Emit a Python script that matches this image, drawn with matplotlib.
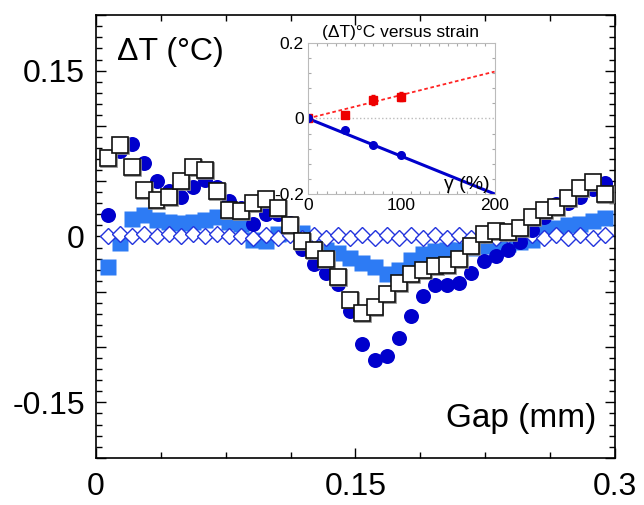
import numpy as np
import matplotlib
matplotlib.use('Agg')
import matplotlib.pyplot as plt
import matplotlib.patheffects as pe
from matplotlib.ticker import MultipleLocator, FixedLocator, FuncFormatter

plt.rcParams['font.family'] = ['Liberation Sans', 'DejaVu Sans']

# gap positions (mm)
gap = [0.007 * k for k in range(1, 43)]

circles = [0.019, 0.077, 0.084, 0.066, 0.050, 0.041, 0.036, 0.045, 0.051, 0.045,
           0.032, 0.026, 0.011, 0.020, 0.020, 0.012, -0.011, -0.025, -0.033, -0.043,
           -0.067, -0.097, -0.112, -0.108, -0.092, -0.072, -0.054, -0.044, -0.044, -0.042,
           -0.033, -0.022, -0.018, -0.012, -0.005, 0.006, 0.018, 0.029, 0.030, 0.036,
           0.043, 0.048]
open_sq = [0.071, 0.083, 0.063, 0.042, 0.033, 0.036, 0.050, 0.063, 0.060, 0.041,
           0.024, 0.023, 0.030, 0.034, 0.026, 0.010, -0.004, -0.012, -0.020, -0.037,
           -0.057, -0.069, -0.064, -0.052, -0.042, -0.034, -0.030, -0.027, -0.026, -0.020,
           -0.009, 0.002, 0.005, 0.004, 0.008, 0.018, 0.024, 0.027, 0.035, 0.044,
           0.049, 0.038]
filled_sq = [-0.028, -0.006, 0.016, 0.019, 0.015, 0.0135, 0.012, 0.0135, 0.015, 0.018,
             0.0135, 0.011, -0.003, -0.004, 0.002, 0.003, 0.003, -0.010, -0.012, -0.015,
             -0.019, -0.024, -0.028, -0.034, -0.030, -0.021, -0.016, -0.013, -0.012, -0.012,
             -0.010, -0.009, -0.008, -0.007, -0.005, -0.003, 0.006, 0.008, 0.010, 0.011,
             0.014, 0.017]
diamonds = [0.0, 0.002, 0.0, 0.002, 0.0, 0.002, 0.0, 0.002, 0.0, 0.002,
            0.0, 0.0, -0.001, 0.001, -0.001, 0.001, -0.001, 0.001, -0.001, 0.001,
            -0.001, 0.001, -0.001, 0.001, -0.001, 0.001, -0.001, 0.001, -0.001, 0.001,
            -0.001, 0.001, -0.001, 0.001, -0.001, 0.001, -0.001, 0.001, -0.001, 0.001,
            -0.001, 0.001]

# inset: dT versus strain
strain = [0, 40, 70, 100]
dt_red = [0.0, 0.010, 0.048, 0.058]
err_red = [0.004, 0.005, 0.013, 0.013]
dt_blue = [0.0, -0.031, -0.070, -0.096]
err_blue = [0.005, 0.006, 0.006, 0.006]
fit_x = [0, 200]
fit_red = [0.0, 0.124]
fit_blue = [0.0, -0.2]

fig = plt.figure(figsize=(6.44, 5.05), dpi=100)
ax = fig.add_axes([0.149, 0.0937, 0.806, 0.876])

ax.plot(gap, filled_sq, 's', ms=11.5, color='#2d7bf4', mec='none', zorder=2)
ax.plot(gap, diamonds, 'D', ms=8.6, mfc='white', mec='#2233dd', mew=1.0, zorder=3)
ax.plot(gap, circles, 'o', ms=10.8, color='#0000cc', mec='none', zorder=4)
ax.plot(gap, open_sq, 's', ms=11.5, mfc='white', mec='#111111', mew=1.2, zorder=5,
        path_effects=[pe.SimpleLineShadow(offset=(0.7, -0.7), shadow_color='#888888', alpha=1),
                      pe.Normal()])

ax.set_xlim(0, 0.3)
ax.set_ylim(-0.2, 0.2)
ax.xaxis.set_major_locator(FixedLocator([0, 0.15, 0.3]))
ax.xaxis.set_minor_locator(MultipleLocator(0.0375))
ax.yaxis.set_major_locator(MultipleLocator(0.05))
ax.yaxis.set_minor_locator(MultipleLocator(0.01))


def ylab(v, pos):
    if abs(v) < 1e-9:
        return '0'
    if abs(abs(v) - 0.15) < 1e-9:
        return '%.2f' % v
    return ''


def xlab(v, pos):
    if abs(v) < 1e-9:
        return '0'
    return ('%.2f' % v).rstrip('0')


ax.yaxis.set_major_formatter(FuncFormatter(ylab))
ax.xaxis.set_major_formatter(FuncFormatter(xlab))
ax.tick_params(which='both', direction='in', top=True, right=True, width=1.0)
ax.tick_params(which='major', length=7)
ax.tick_params(which='minor', length=4)
ax.tick_params(axis='x', which='major', labelsize=23, pad=10)
ax.tick_params(axis='y', which='major', labelsize=23, pad=8)
for s in ax.spines.values():
    s.set_linewidth(1.2)

ax.text(0.04, 0.899, 'ΔT (°C)', transform=ax.transAxes, fontsize=23, va='baseline', ha='left')
ax.text(0.965, 0.07, 'Gap (mm)', transform=ax.transAxes, fontsize=24, va='baseline', ha='right')

# inset
ins = fig.add_axes([0.478, 0.616, 0.290, 0.299])
ins.patch.set_alpha(0)
ins.axhline(0, ls=':', color='#bbbbbb', lw=1, zorder=0)
ins.plot(fit_x, fit_red, '--', color='#ff2222', lw=1.3, dashes=(2, 1.5))
ins.plot(fit_x, fit_blue, '-', color='#0000cc', lw=2.2)
ins.errorbar(strain, dt_red, yerr=err_red, fmt='s', ms=6, color='#ee0000', ecolor='#ee0000',
             elinewidth=1, capsize=1.5)
ins.errorbar(strain, dt_blue, yerr=err_blue, fmt='o', ms=5.5, color='#0000cc', ecolor='#0000cc',
             elinewidth=1, capsize=1.5)
ins.set_xlim(0, 200)
ins.set_ylim(-0.2, 0.2)
ins.set_xticks([0, 100, 200])
ins.set_yticks([-0.2, 0, 0.2])
ins.set_yticklabels(['-0.2', '0', '0.2'])
ins.xaxis.set_minor_locator(MultipleLocator(10))
ins.yaxis.set_minor_locator(MultipleLocator(0.04))
ins.tick_params(which='both', direction='in', top=True, right=True, color='#aaaaaa', width=0.8)
ins.tick_params(which='major', length=0, labelsize=12.5, pad=3)
ins.tick_params(which='minor', length=2.5)
for s in ins.spines.values():
    s.set_color('#bbbbbb')
    s.set_linewidth(0.8)
ins.text(0.497, 1.042, '(ΔT)°C versus strain', transform=ins.transAxes, fontsize=12.5,
         ha='center', va='baseline')
ins.text(0.975, 0.03, 'γ (%)', transform=ins.transAxes, fontsize=14, ha='right', va='baseline')

fig.savefig('out.png', dpi=100)
